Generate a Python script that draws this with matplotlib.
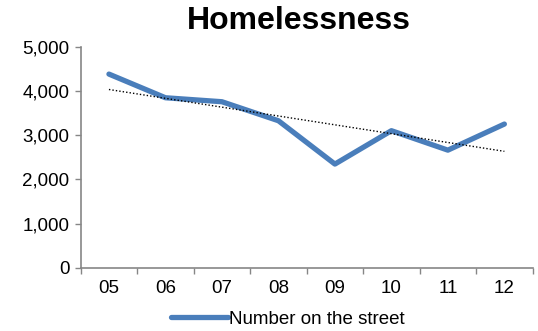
import matplotlib
matplotlib.use("Agg")
import matplotlib.pyplot as plt
import numpy as np
from matplotlib.ticker import FuncFormatter, FixedLocator

categories = ["05", "06", "07", "08", "09", "10", "11", "12"]
street = [4380, 3845, 3755, 3325, 2345, 3100, 2660, 3250]
yticks = [0, 1000, 2000, 3000, 4000, 5000]

plt.rcParams['font.family'] = ['Liberation Sans', 'DejaVu Sans']

fig = plt.figure(figsize=(5.38, 3.31), dpi=100)
ax = fig.add_axes([0.150, 0.191, 0.840, 0.668])

x = np.arange(len(categories))
ax.plot(x, street, color="#4A7EBB", lw=3.8, solid_joinstyle="round",
        solid_capstyle="round", label="Number on the street", zorder=3)
coef = np.polyfit(x, street, 1)
ax.plot(x, np.polyval(coef, x), color="black", lw=1.0, ls=(0, (1, 1.5)), zorder=4)

ax.set_xlim(-0.5, len(categories) - 0.5)
ax.set_ylim(0, 5000)
ax.set_yticks(yticks)
ax.yaxis.set_major_formatter(FuncFormatter(lambda v, p: f"{int(v):,}"))
ax.set_xticks(x)
ax.set_xticklabels(categories)
ax.xaxis.set_minor_locator(FixedLocator(np.arange(-0.5, len(categories), 1)))
ax.tick_params(axis="x", which="major", length=0, pad=9, labelsize=13.5)
ax.tick_params(axis="x", which="minor", length=4, color="#868686", width=1)
ax.tick_params(axis="y", length=4, color="#868686", width=1, labelsize=13.5, pad=4)

for s in ["top", "right"]:
    ax.spines[s].set_visible(False)
for s in ["left", "bottom"]:
    ax.spines[s].set_color("#868686")
    ax.spines[s].set_linewidth(1.2)

fig.suptitle("Homelessness", x=0.555, y=0.982, fontsize=23, fontweight="bold")
fig.legend(handles=ax.get_lines()[:1], loc="lower center",
           bbox_to_anchor=(0.535, -0.042), frameon=False, fontsize=13.5,
           handlelength=3.0, handletextpad=0.05)

fig.savefig("out.png", dpi=100)
